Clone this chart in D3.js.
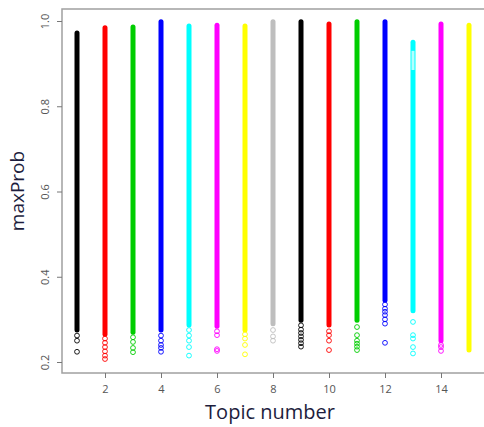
<!DOCTYPE html>
<html>
<head>
    <style>
        body { margin: 0; background: #fff; }
        text { font-family: "Open Sans", "Noto Sans", sans-serif; }
    </style>
    <script src="https://cdn.jsdelivr.net/npm/d3@7"></script>
</head>
<body>
    <svg id="container" width="484" height="427"></svg>
<script>
    // topic number, colour and the range where points sit packed together
    let topics = [1, 2, 3, 4, 5, 6, 7, 8, 9, 10, 11, 12, 13, 14, 15]
    let colors = ["#000000", "#ff0000", "#00cd00", "#0000ff", "#00ffff", "#ff00ff", "#ffff00", "#bebebe",
                  "#000000", "#ff0000", "#00cd00", "#0000ff", "#00ffff", "#ff00ff", "#ffff00"]
    let denseTop = [0.972, 0.984, 0.986, 0.998, 0.988, 0.99, 0.988, 0.998, 0.998, 0.993, 0.998, 0.998, 0.95, 0.993, 0.99]
    let denseBottom = [0.275, 0.265, 0.27, 0.275, 0.287, 0.284, 0.275, 0.29, 0.298, 0.287, 0.298, 0.345, 0.32, 0.25, 0.228]
    // gaps inside the packed range [topic, from, to]
    let gaps = [[13, 0.93, 0.885]]
    // single scattered points below the packed range [topic, value]
    let sparse = [
        [1, 0.262], [1, 0.25], [1, 0.224],
        [2, 0.255], [2, 0.245], [2, 0.235], [2, 0.225], [2, 0.215], [2, 0.207],
        [3, 0.258], [3, 0.247], [3, 0.233], [3, 0.223],
        [4, 0.262], [4, 0.25], [4, 0.24], [4, 0.233], [4, 0.224],
        [5, 0.275], [5, 0.262], [5, 0.25], [5, 0.235], [5, 0.215],
        [6, 0.272], [6, 0.263], [6, 0.23], [6, 0.226],
        [7, 0.265], [7, 0.255], [7, 0.24], [7, 0.218],
        [8, 0.275], [8, 0.26], [8, 0.25],
        [9, 0.286], [9, 0.276], [9, 0.268], [9, 0.26], [9, 0.252], [9, 0.244], [9, 0.236],
        [10, 0.272], [10, 0.263], [10, 0.25], [10, 0.228],
        [11, 0.282], [11, 0.263], [11, 0.25], [11, 0.243], [11, 0.236], [11, 0.228],
        [12, 0.335], [12, 0.325], [12, 0.318], [12, 0.31], [12, 0.3], [12, 0.29], [12, 0.245],
        [13, 0.294], [13, 0.263], [13, 0.255], [13, 0.235], [13, 0.22],
        [14, 0.24], [14, 0.235], [14, 0.226]
    ]
    let xTicks = [2, 4, 6, 8, 10, 12, 14]
    let yTicks = [0.2, 0.4, 0.6, 0.8, 1.0]

    let svg = d3.select("#container")

    let x = d3.scaleLinear().domain([1, 15]).range([77, 469])
    let y = d3.scaleLinear().domain([0.2, 1.0]).range([362, 21])

    // plot box
    svg.append("rect")
        .attr("x", 62).attr("y", 9)
        .attr("width", 430).attr("height", 364)
        .attr("fill", "none")
        .attr("stroke", "#a0a0a0")
        .attr("stroke-width", 1.5)

    // packed ranges as thick strokes
    svg.selectAll("line.dense")
        .data(topics)
        .enter().append("line")
        .attr("class", "dense")
        .attr("x1", d => x(d)).attr("x2", d => x(d))
        .attr("y1", (d, i) => y(denseTop[i]))
        .attr("y2", (d, i) => y(denseBottom[i]))
        .attr("stroke", (d, i) => colors[i])
        .attr("stroke-width", 5)
        .attr("stroke-linecap", "round")

    svg.selectAll("line.gap")
        .data(gaps)
        .enter().append("line")
        .attr("x1", d => x(d[0])).attr("x2", d => x(d[0]))
        .attr("y1", d => y(d[1])).attr("y2", d => y(d[2]))
        .attr("stroke", "#fff")
        .attr("stroke-width", 3)
        .attr("opacity", 0.7)

    svg.selectAll("circle")
        .data(sparse)
        .enter().append("circle")
        .attr("cx", d => x(d[0]))
        .attr("cy", d => y(d[1]))
        .attr("r", 2.4)
        .attr("fill", "none")
        .attr("stroke", d => colors[d[0] - 1])
        .attr("stroke-width", 0.9)

    // x axis
    let xAxis = svg.append("g").attr("transform", "translate(0,373)")
        .call(d3.axisBottom(x).tickValues(xTicks).tickSize(5).tickSizeOuter(0))
    xAxis.select(".domain").remove()
    xAxis.selectAll("line").attr("stroke", "#777")
    xAxis.selectAll("text").attr("fill", "#555").attr("font-size", 11).attr("dy", "1.1em")

    // y axis, labels turned like R's las=0
    let yAxis = svg.append("g").attr("transform", "translate(62,0)")
        .call(d3.axisLeft(y).tickValues(yTicks).tickSize(5).tickFormat(d3.format(".1f")))
    yAxis.select(".domain").remove()
    yAxis.selectAll("line").attr("stroke", "#777")
    yAxis.selectAll("text")
        .attr("fill", "#555").attr("font-size", 11)
        .attr("text-anchor", "middle")
        .attr("transform", "rotate(-90)")
        .attr("x", 0).attr("y", -17).attr("dy", "0.35em")

    // titles
    svg.append("text")
        .attr("x", 270).attr("y", 419)
        .attr("text-anchor", "middle")
        .attr("font-size", 20)
        .attr("fill", "#1d1d3d")
        .text("Topic number")

    svg.append("text")
        .attr("transform", "translate(24,191) rotate(-90)")
        .attr("text-anchor", "middle")
        .attr("font-size", 19)
        .attr("fill", "#1d1d3d")
        .text("maxProb")
</script>
</body>
</html>
